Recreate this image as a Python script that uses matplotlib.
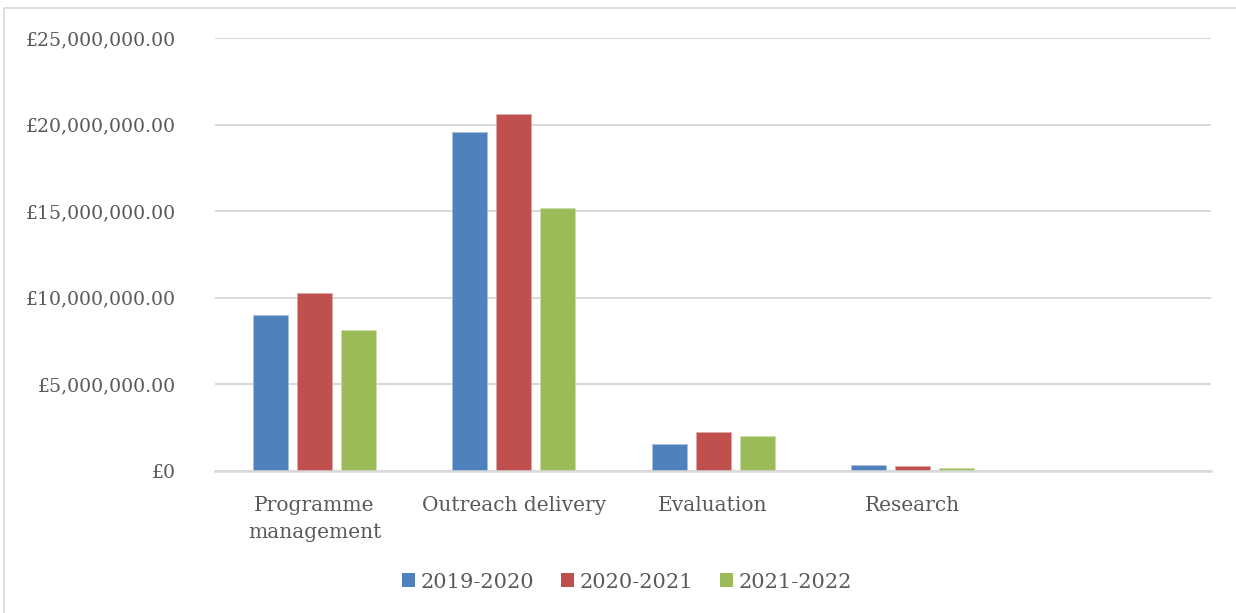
import numpy as np
import matplotlib
matplotlib.use("Agg")
import matplotlib.pyplot as plt
from matplotlib.ticker import FuncFormatter, MultipleLocator
from matplotlib.patches import Patch, Rectangle

# spend per activity area, by financial year (GBP)
categories = ["Programme\nmanagement", "Outreach delivery", "Evaluation", "Research"]
years = ["2019-2020", "2020-2021", "2021-2022"]
spend_2019 = [9020000, 19580000, 1580000, 350000]
spend_2020 = [10250000, 20620000, 2230000, 290000]
spend_2021 = [8120000, 15180000, 2000000, 150000]
colors = ["#4f81bd", "#c0504d", "#9bbb59"]
edges = ["#a7c0de", "#e0a8a6", "#cddeac"]
n_slots = 5  # axis keeps room for one unused category slot on the right

plt.rcParams["font.family"] = ["DejaVu Serif"]
text_color = "#595959"

fig = plt.figure(figsize=(12.36, 6.13), dpi=100)
ax = fig.add_axes([215 / 1236, 1 - 471 / 613, (1211 - 215) / 1236, (471 - 38) / 613])

x = np.arange(len(categories))
bar_w = 35 / 199.2
step = 44 / 199.2
for i, (vals, c, e) in enumerate(zip([spend_2019, spend_2020, spend_2021], colors, edges)):
    ax.bar(x + (i - 1) * step, vals, width=bar_w, color=c, edgecolor=e,
           linewidth=0.5, zorder=3, label=years[i])

ax.set_xlim(-0.5, n_slots - 0.5)
ax.set_ylim(0, 25000000)
ax.yaxis.set_major_locator(MultipleLocator(5000000))


def pound(v, pos):
    if v == 0:
        return "£0"
    return "£{:,.2f}".format(v)


ax.yaxis.set_major_formatter(FuncFormatter(pound))
ax.grid(axis="y", color="#d9d9d9", linewidth=1.5, zorder=0)
for s in ["top", "right", "left"]:
    ax.spines[s].set_visible(False)
ax.spines["bottom"].set_color("#d9d9d9")
ax.spines["bottom"].set_linewidth(1.8)
ax.spines["bottom"].set_zorder(4)

ax.set_xticks(x)
ax.set_xticklabels(categories, linespacing=1.55)
ax.tick_params(axis="x", length=0, pad=18, labelsize=14.5, labelcolor=text_color)
ax.tick_params(axis="y", length=0, pad=28, labelsize=13.6, labelcolor=text_color)

handles = [Patch(facecolor=c, edgecolor="none", label=y) for c, y in zip(colors, years)]
fig.legend(handles=handles, loc="center", bbox_to_anchor=(627 / 1236, 1 - 582 / 613),
           ncol=3, frameon=False, fontsize=15, labelcolor=text_color,
           handlelength=0.62, handleheight=0.62, handletextpad=0.25, columnspacing=1.3)

# thin outer frame around the chart area
fig.patches.append(Rectangle((4 / 1236, -0.05), 1.1, 1 - 8 / 613 + 0.05,
                             transform=fig.transFigure, fill=False,
                             edgecolor="#d9d9d9", linewidth=1.2))

fig.savefig("out.png", dpi=100)
